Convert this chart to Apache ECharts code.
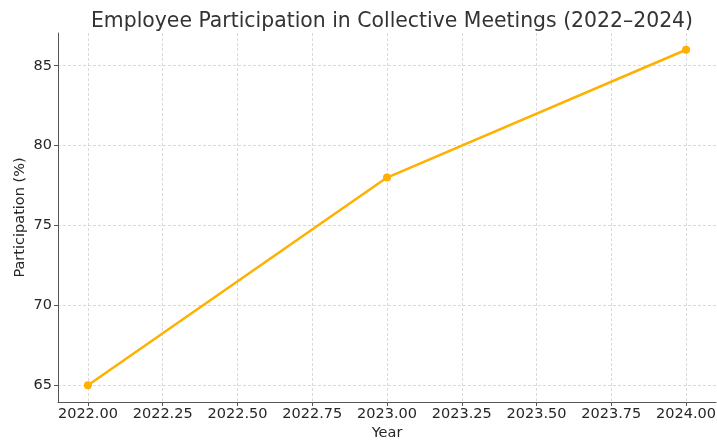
<!DOCTYPE html>
<html>
<head>
<meta charset="utf-8">
<script src="https://cdn.jsdelivr.net/npm/echarts@6/dist/echarts.min.js"></script>
<style>
  html, body { margin: 0; padding: 0; background: #fff; }
  #chart { width: 717px; height: 440px; }
</style>
</head>
<body>
<div id="chart"></div>
<script>
// data
const years = [2022, 2023, 2024];
const participation = [65, 78, 86];
const xTicks = [2022, 2022.25, 2022.5, 2022.75, 2023, 2023.25, 2023.5, 2023.75, 2024];
const yTicks = [65, 70, 75, 80, 85];

const FONT = 'DejaVu Sans';
const TEXT = '#262626';

var chart = echarts.init(document.getElementById('chart'));
chart.setOption({
  animation: false,
  textStyle: { fontFamily: FONT },
  title: {
    text: 'Employee Participation in Collective Meetings (2022\u20132024)',
    left: 387,
    top: 7,
    textAlign: 'center',
    textStyle: { fontFamily: FONT, fontSize: 20.4, fontWeight: 'normal', color: '#333' }
  },
  grid: { left: 58, right: 1, top: 33, bottom: 38, containLabel: false, outerBoundsMode: 'none' },
  xAxis: {
    type: 'value',
    min: 2021.9,
    max: 2024.1,
    name: 'Year',
    nameLocation: 'middle',
    nameGap: 24,
    nameMoveOverlap: false,
    nameTextStyle: { fontFamily: FONT, fontSize: 14.5, color: TEXT },
    axisLine: { show: true, onZero: false, lineStyle: { color: '#555', width: 1 } },
    axisTick: { show: true, inside: false, length: 4, lineStyle: { color: '#555' }, customValues: xTicks },
    axisLabel: {
      customValues: xTicks,
      margin: 5,
      fontFamily: FONT, fontSize: 14.5, color: TEXT,
      formatter: function (v) { return v.toFixed(2); }
    },
    splitLine: { show: true, lineStyle: { color: '#d0d0d0', type: [3, 2], width: 0.8 } }
  },
  yAxis: {
    type: 'value',
    min: 63.95,
    max: 87.05,
    name: 'Participation (%)',
    nameLocation: 'middle',
    nameGap: 30,
    nameMoveOverlap: false,
    nameRotate: 90,
    nameTextStyle: { fontFamily: FONT, fontSize: 14.5, color: TEXT },
    axisLine: { show: true, lineStyle: { color: '#555', width: 1 } },
    axisTick: { show: true, inside: false, length: 4, lineStyle: { color: '#555' }, customValues: yTicks },
    axisLabel: {
      customValues: yTicks,
      margin: 6,
      fontFamily: FONT, fontSize: 14.5, color: TEXT
    },
    splitLine: { show: true, lineStyle: { color: '#d0d0d0', type: [3, 2], width: 0.8 } }
  },
  series: [{
    type: 'line',
    data: years.map(function (y, i) { return [y, participation[i]]; }),
    symbol: 'circle',
    symbolSize: 8,
    itemStyle: { color: '#FFB000' },
    lineStyle: { color: '#FFB000', width: 2.5 }
  }]
});
</script>
</body>
</html>
